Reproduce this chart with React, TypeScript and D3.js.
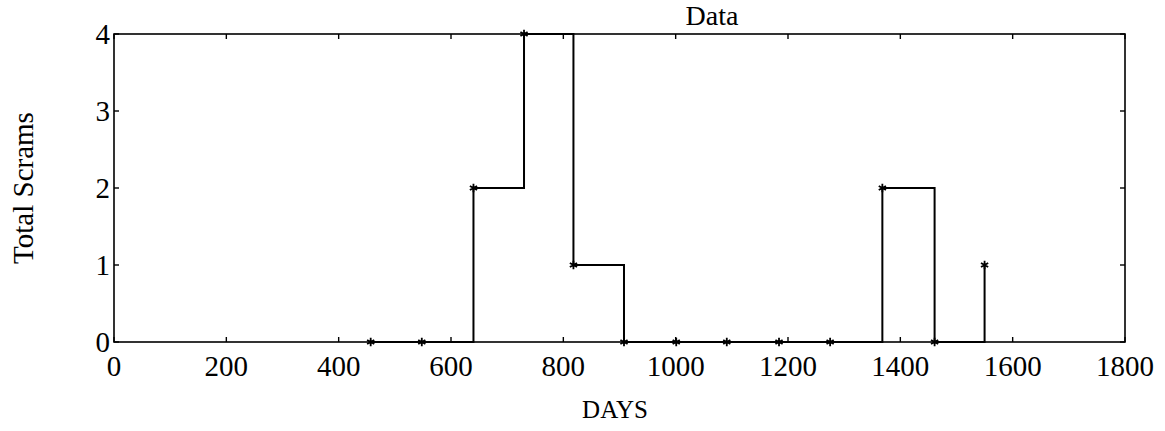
import React from "react";
import * as d3 from "d3";

// Quarterly observation days and total scram counts
const days = [457, 548, 640, 730, 818, 908, 1001, 1091, 1184, 1275, 1368, 1461, 1550];
const scrams = [0, 0, 2, 4, 1, 0, 0, 0, 0, 0, 2, 0, 1];

const xTicks = [0, 200, 400, 600, 800, 1000, 1200, 1400, 1600, 1800];
const yTicks = [0, 1, 2, 3, 4];

const titleText = "Data";
const xLabel = "DAYS";
const yLabel = "Total Scrams";

const W = 1165;
const H = 431;
const FONT = "'Liberation Serif', 'Times New Roman', serif";

export default function App() {
  const x = d3.scaleLinear().domain([0, 1800]).range([114, 1125]);
  const y = d3.scaleLinear().domain([0, 4]).range([342, 34]);

  const pts: [number, number][] = days.map((d, i) => [d, scrams[i]]);
  const stairs = d3
    .line<[number, number]>()
    .x((d) => x(d[0]))
    .y((d) => y(d[1]))
    .curve(d3.curveStepAfter)(pts) as string;

  const star = d3.symbol(d3.symbolAsterisk, 48)() as string;

  const [x0, x1] = x.range();
  const [yb, yt] = y.range();
  const tl = 5;

  return (
    <svg
      width={W}
      height={H}
      style={{ position: "absolute", left: 0, top: 0, background: "#fff" }}
      fontFamily={FONT}
    >
      <rect width={W} height={H} fill="#fff" />
      {/* frame */}
      <rect
        x={x0}
        y={yt}
        width={x1 - x0}
        height={yb - yt}
        fill="none"
        stroke="#000"
        strokeWidth={1.6}
      />
      {/* x ticks, bottom and top, pointing inward */}
      {xTicks.map((t) => (
        <g key={"x" + t}>
          <line x1={x(t)} x2={x(t)} y1={yb} y2={yb - tl} stroke="#000" strokeWidth={1.4} />
          <line x1={x(t)} x2={x(t)} y1={yt} y2={yt + tl} stroke="#000" strokeWidth={1.4} />
          <text
            x={x(t)}
            y={376}
            textAnchor="middle"
            fontSize={29}
            fill="#000"
          >
            {t}
          </text>
        </g>
      ))}
      {/* y ticks, left and right, pointing inward */}
      {yTicks.map((t) => (
        <g key={"y" + t}>
          <line x1={x0} x2={x0 + tl} y1={y(t)} y2={y(t)} stroke="#000" strokeWidth={1.4} />
          <line x1={x1} x2={x1 - tl} y1={y(t)} y2={y(t)} stroke="#000" strokeWidth={1.4} />
          <text
            x={110}
            y={y(t)}
            dy="0.35em"
            textAnchor="end"
            fontSize={29}
            fill="#000"
          >
            {t}
          </text>
        </g>
      ))}
      {/* stairs */}
      <path d={stairs} fill="none" stroke="#000" strokeWidth={2} />
      {pts.map((p, i) => (
        <path
          key={"m" + i}
          d={star}
          transform={`translate(${x(p[0])},${y(p[1])})`}
          fill="none"
          stroke="#000"
          strokeWidth={1.8}
        />
      ))}
      <text x={712} y={25} textAnchor="middle" fontSize={28} fill="#000">
        {titleText}
      </text>
      <text x={615} y={418} textAnchor="middle" fontSize={25} fill="#000">
        {xLabel}
      </text>
      <text
        transform={`translate(33,${(yb + yt) / 2}) rotate(-90)`}
        textAnchor="middle"
        fontSize={29}
        fill="#000"
      >
        {yLabel}
      </text>
    </svg>
  );
}
